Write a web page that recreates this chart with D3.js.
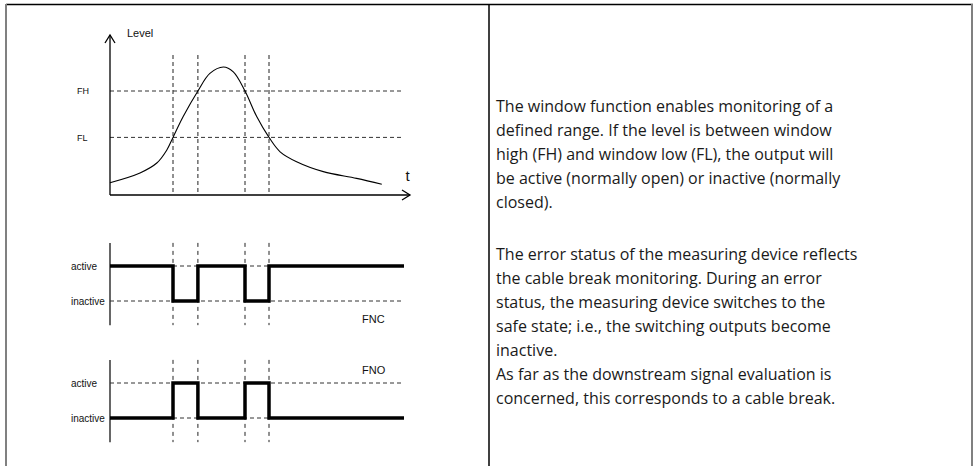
<!DOCTYPE html>
<html>
<head>
<meta charset="utf-8">
<script src="https://cdn.jsdelivr.net/npm/d3@7"></script>
<style>
  body { margin: 0; background: #fff; }
  svg { display: block; }
  .lbl { font-family: "Liberation Sans", Arial, sans-serif; fill: #111; }
  .body { font-family: "Open Sans", sans-serif; font-size: 16px; fill: #1a1a1a; }
</style>
</head>
<body>
<div id="chart"></div>
<script>
var width = 978,
    height = 466;

// level curve (time, level)
var levelTime  = [0, 10, 15.6, 18.9, 21, 24.4, 29.3, 33.3, 37.8, 41.1, 45, 48.9, 53, 56.7, 62.2, 71.1, 82.2, 90.6];
var levelValue = [7.7, 13.8, 20, 28, 36, 49, 65, 76, 80, 77, 65, 49, 36, 27, 20.8, 14.6, 10.4, 6.7];

var thresholdNames  = ["FH", "FL"];
var thresholdValues = [65, 36];

// switching instants and output states between them
var switchTimes = [0, 21, 29.3, 45, 53, 98];
var fncStates = [1, 0, 1, 0, 1];
var fnoStates = [0, 1, 0, 1, 0];
var stateNames = ["inactive", "active"];

var textPara1 = [
  "The window function enables monitoring of a",
  "defined range. If the level is between window",
  "high (FH) and window low (FL), the output will",
  "be active (normally open) or inactive (normally",
  "closed)."
];
var textPara2 = [
  "The error status of the measuring device reflects",
  "the cable break monitoring. During an error",
  "status, the measuring device switches to the",
  "safe state; i.e., the switching outputs become",
  "inactive.",
  "As far as the downstream signal evaluation is",
  "concerned, this corresponds to a cable break."
];

var svg = d3.select("#chart")
    .append("svg")
    .attr("width", width)
    .attr("height", height);

// frame
svg.append("line").attr("x1", 6).attr("x2", 973).attr("y1", 4.5).attr("y2", 4.5)
    .attr("stroke", "#000").attr("stroke-width", 1.5);
svg.append("line").attr("x1", 6).attr("x2", 6).attr("y1", 4).attr("y2", height)
    .attr("stroke", "#808080").attr("stroke-width", 2);
svg.append("line").attr("x1", 972).attr("x2", 972).attr("y1", 4).attr("y2", height)
    .attr("stroke", "#808080").attr("stroke-width", 2);
svg.append("line").attr("x1", 489).attr("x2", 489).attr("y1", 4).attr("y2", height)
    .attr("stroke", "#000").attr("stroke-width", 1.5);

var x = d3.scaleLinear().domain([0, 100]).range([110, 410]);
var y = d3.scaleLinear().domain([0, 100]).range([195, 35]);

var topG = svg.append("g");

// guides
topG.selectAll(".vguide")
    .data(switchTimes.slice(1, 5))
  .enter().append("line")
    .attr("x1", function(d) { return x(d); })
    .attr("x2", function(d) { return x(d); })
    .attr("y1", y(87.5))
    .attr("y2", y(0))
    .attr("stroke", "#222")
    .attr("stroke-dasharray", "4,3");

topG.selectAll(".hguide")
    .data(thresholdValues)
  .enter().append("line")
    .attr("x1", x(0))
    .attr("x2", x(98))
    .attr("y1", function(d) { return y(d); })
    .attr("y2", function(d) { return y(d); })
    .attr("stroke", "#333")
    .attr("stroke-dasharray", "4,3");

topG.selectAll(".thr")
    .data(thresholdNames)
  .enter().append("text")
    .attr("class", "lbl")
    .attr("x", 77)
    .attr("y", function(d, i) { return y(thresholdValues[i]); })
    .attr("dy", ".35em")
    .style("font-size", "9px")
    .text(function(d) { return d; });

// axes with open arrows
topG.append("line").attr("x1", x(0)).attr("x2", x(0)).attr("y1", y(0)).attr("y2", y(100))
    .attr("stroke", "#000").attr("stroke-width", 1.3);
topG.append("line").attr("x1", x(0)).attr("x2", x(100)).attr("y1", y(0)).attr("y2", y(0))
    .attr("stroke", "#000").attr("stroke-width", 1.3);
topG.append("path")
    .attr("d", d3.line()([[x(0) - 5, y(100) + 8], [x(0), y(100)], [x(0) + 5, y(100) + 8]]))
    .attr("fill", "none").attr("stroke", "#000").attr("stroke-width", 1.3);
topG.append("path")
    .attr("d", d3.line()([[x(100) - 8, y(0) - 5], [x(100), y(0)], [x(100) - 8, y(0) + 5]]))
    .attr("fill", "none").attr("stroke", "#000").attr("stroke-width", 1.3);

topG.append("text").attr("class", "lbl").attr("x", x(0) + 17).attr("y", y(100) + 2)
    .style("font-size", "11px").text("Level");
topG.append("text").attr("class", "lbl").attr("x", x(98.5)).attr("y", y(0) - 14)
    .style("font-size", "15px").text("t");

var level = d3.line()
    .x(function(d, i) { return x(levelTime[i]); })
    .y(function(d) { return y(d); })
    .curve(d3.curveCatmullRom.alpha(0.5));

topG.append("path")
    .attr("d", level(levelValue))
    .attr("fill", "none")
    .attr("stroke", "#000")
    .attr("stroke-width", 1.1);

// switching output panels
function drawPanel(states, yBase, name, nameState) {
  var ys = d3.scaleLinear().domain([0, 1]).range([yBase, yBase - 35]);
  var g = svg.append("g");

  g.append("line").attr("x1", x(0)).attr("x2", x(0))
      .attr("y1", ys(1.66)).attr("y2", ys(-0.69))
      .attr("stroke", "#000").attr("stroke-width", 1.2);

  g.selectAll(".sguide")
      .data(switchTimes.slice(1, 5))
    .enter().append("line")
      .attr("x1", function(d) { return x(d); })
      .attr("x2", function(d) { return x(d); })
      .attr("y1", ys(1.66))
      .attr("y2", ys(-0.69))
      .attr("stroke", "#222")
      .attr("stroke-dasharray", "4,4");

  g.selectAll(".lguide")
      .data([0, 1])
    .enter().append("line")
      .attr("x1", x(0))
      .attr("x2", x(98))
      .attr("y1", function(d) { return ys(d); })
      .attr("y2", function(d) { return ys(d); })
      .attr("stroke", "#333")
      .attr("stroke-dasharray", "4,3");

  g.selectAll(".slbl")
      .data(stateNames)
    .enter().append("text")
      .attr("class", "lbl")
      .attr("x", 71)
      .attr("y", function(d, i) { return ys(i); })
      .attr("dy", ".35em")
      .style("font-size", "10px")
      .text(function(d) { return d; });

  var pts = states.map(function(s, i) { return [switchTimes[i], s]; });
  pts.push([switchTimes[switchTimes.length - 1], states[states.length - 1]]);

  g.append("path")
      .attr("d", d3.line()
          .x(function(d) { return x(d[0]); })
          .y(function(d) { return ys(d[1]); })
          .curve(d3.curveStepAfter)(pts))
      .attr("fill", "none")
      .attr("stroke", "#000")
      .attr("stroke-width", 3.5);

  g.append("text")
      .attr("class", "lbl")
      .attr("x", 362)
      .attr("y", ys(nameState))
      .attr("dy", ".35em")
      .style("font-size", "11px")
      .text(name);
}

drawPanel(fncStates, 301, "FNC", -0.52);
drawPanel(fnoStates, 418, "FNO", 1.37);

// description text
function para(lines, y0) {
  svg.append("text")
      .attr("class", "body")
      .selectAll("tspan")
      .data(lines)
    .enter().append("tspan")
      .attr("x", 496)
      .attr("y", function(d, i) { return y0 + i * 24; })
      .text(function(d) { return d; });
}
para(textPara1, 112);
para(textPara2, 260);
</script>
</body>
</html>
